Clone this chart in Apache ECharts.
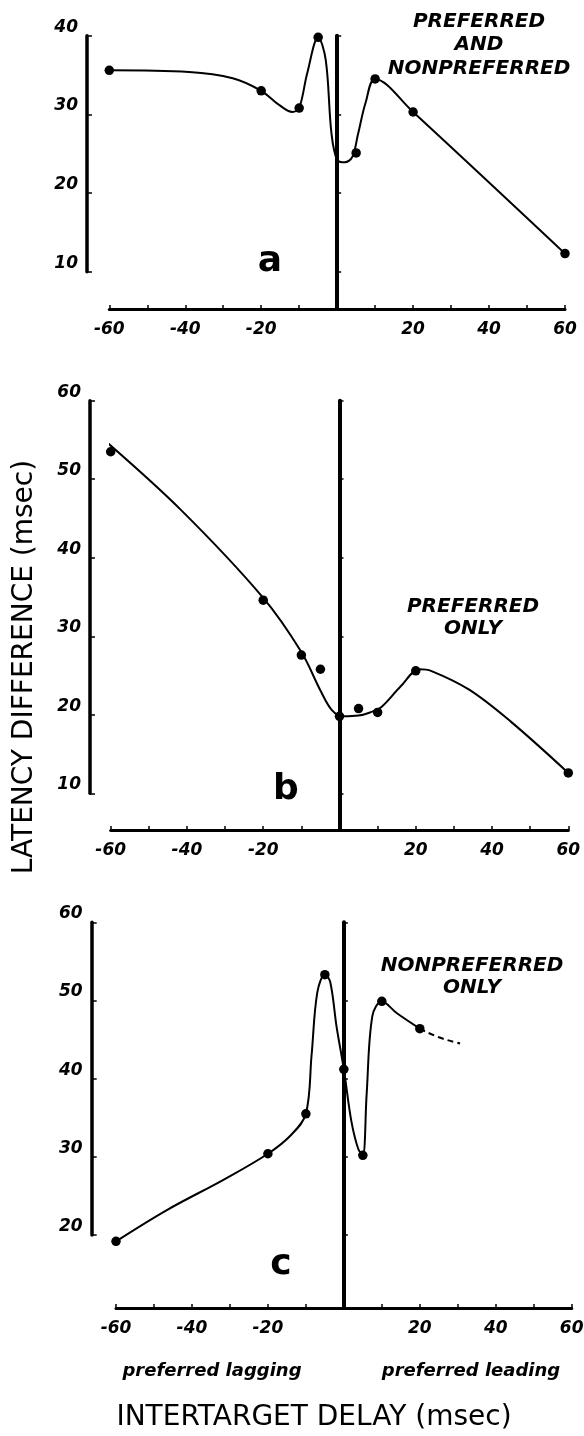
<!DOCTYPE html>
<html><head><meta charset="utf-8">
<script src="https://cdn.jsdelivr.net/npm/echarts@6/dist/echarts.min.js"></script>
<style>html,body{margin:0;padding:0;background:#fff}#c{width:584px;height:1436px}</style>
</head><body><div id="c"></div>
<script>
// ---------- DATA ----------
const xTickLabels = [-60, -40, -20, 20, 40, 60];
const yTicksA = [10, 20, 30, 40];
const yTicksB = [10, 20, 30, 40, 50, 60];
const yTicksC = [20, 30, 40, 50, 60];

// panel a : preferred and nonpreferred
const pointsAx = [-60, -20, -10, -5, 5, 10, 20, 60];
const pointsAy = [35.6, 33.0, 30.8, 39.8, 25.1, 34.5, 30.3, 12.3];
const curveAx = [-60, -39, -27.5, -20, -15.3, -11.8, -10, -7.9, -5, -3, -1.5, 0, 2, 4, 5.5, 7.5, 10, 20, 60];
const curveAy = [35.6, 35.4, 34.6, 33.0, 31.2, 30.3, 30.8, 35.2, 39.8, 36.9, 27.6, 24.2, 23.9, 24.6, 27.5, 31.5, 34.5, 30.3, 12.3];

// panel b : preferred only
const pointsBx = [-60, -20, -10, -5, 0, 5, 10, 20, 60];
const pointsBy = [53.5, 34.6, 27.6, 25.8, 19.8, 20.8, 20.3, 25.6, 12.6];
const curveBx = [-61.7, -41.6, -20, -10, -5, -2, 1, 5, 8, 11, 16, 21, 24, 34, 45, 60];
const curveBy = [55.0, 46.1, 34.9, 28.0, 23.1, 20.6, 19.8, 19.9, 20.3, 21.0, 23.6, 25.8, 25.6, 23.2, 19.1, 12.6];

// panel c : nonpreferred only
const pointsCx = [-60, -20, -10, -5, 0, 5, 10, 20];
const pointsCy = [19.2, 30.4, 35.5, 53.3, 41.2, 30.2, 49.9, 46.4];
const curveCx = [-60, -46.6, -31.6, -20, -13.9, -10, -8.5, -7, -5, -3.6, -1.9, 0, 2, 3.8, 5, 6, 7.5, 10, 13.9, 20];
const curveCy = [19.2, 23.2, 27.1, 30.4, 32.8, 35.5, 43.0, 51.0, 53.3, 52.4, 46.6, 41.2, 34.5, 31.0, 30.2, 38.0, 48.0, 49.9, 48.4, 46.4];
const dashCx = [20, 25, 30.6];
const dashCy = [46.4, 45.3, 44.5];

// ---------- LAYOUT ----------
const zip = (xs, ys) => xs.map((x, i) => [x, ys[i]]);
const FONT = '"DejaVu Sans", sans-serif';
const panels = [
  { left: 109.3, right: 19, top: 35.7, dataH: 273.3, axisH: 236, yMin: 10, yMax: 40, yLow: 5.26, offset: 22.3, ticks: yTicksA,
    series: [[pointsAx, pointsAy, 'scatter'], [curveAx, curveAy, 'curve']] },
  { left: 110.7, right: 15.7, top: 400.7, dataH: 429.3, axisH: 392.6, yMin: 10, yMax: 60, yLow: 5.33, offset: 20.7, ticks: yTicksB,
    series: [[pointsBx, pointsBy, 'scatter'], [curveBx, curveBy, 'curve']] },
  { left: 116, right: 12.3, top: 922.3, dataH: 385.7, axisH: 312.7, yMin: 20, yMax: 60, yLow: 10.67, offset: 24.3, ticks: yTicksC,
    series: [[pointsCx, pointsCy, 'scatter'], [curveCx, curveCy, 'curve'], [dashCx, dashCy, 'dash']] }
];

const grid = [], xAxis = [], yAxis = [], series = [];
const labelStyle = { color: '#000', fontFamily: FONT, fontWeight: 'bold', fontStyle: 'italic', fontSize: 17 };
panels.forEach((p, i) => {
  const gData = grid.length;
  grid.push({ left: p.left, right: p.right, top: p.top, height: p.dataH, outerBoundsMode: 'none' });
  grid.push({ left: p.left, right: p.right, top: p.top, height: p.axisH, outerBoundsMode: 'none' });
  xAxis.push({
    gridIndex: gData, type: 'value', min: -60, max: 60, interval: 10, position: 'bottom',
    axisLine: { show: true, onZero: false, lineStyle: { color: '#000', width: 3 } },
    axisTick: { show: true, inside: true, length: 4, lineStyle: { color: '#000', width: 1.5 } },
    axisLabel: Object.assign({ margin: 12, formatter: v => xTickLabels.includes(v) ? String(v) : '' }, labelStyle),
    splitLine: { show: false }
  });
  xAxis.push({ gridIndex: gData + 1, type: 'value', min: -60, max: 60, show: false });
  yAxis.push({
    gridIndex: gData, type: 'value', min: p.yLow, max: p.yMax,
    axisLine: { show: true, onZero: true, lineStyle: { color: '#000', width: 4 } },
    axisTick: { show: true, inside: true, length: 4, customValues: p.ticks, lineStyle: { color: '#000', width: 1.5 } },
    axisLabel: { show: false }, splitLine: { show: false }
  });
  yAxis.push({
    gridIndex: gData + 1, type: 'value', min: p.yMin, max: p.yMax, interval: 10, position: 'left', offset: p.offset,
    axisLine: { show: true, onZero: false, lineStyle: { color: '#000', width: 3.5 } },
    axisTick: { show: true, inside: true, length: 5, lineStyle: { color: '#000', width: 1.5 } },
    axisLabel: Object.assign({ margin: 9, verticalAlign: 'bottom' }, labelStyle),
    splitLine: { show: false }
  });
  p.series.forEach(([xs, ys, kind]) => {
    if (kind === 'scatter') {
      series.push({ type: 'scatter', xAxisIndex: gData, yAxisIndex: gData, data: zip(xs, ys),
        symbol: 'circle', symbolSize: 9.5, itemStyle: { color: '#000', opacity: 1 }, z: 5, clip: false });
    } else {
      series.push({ type: 'line', xAxisIndex: gData, yAxisIndex: gData, data: zip(xs, ys),
        smooth: kind === 'dash' ? true : 0.35, showSymbol: false, symbol: 'none', clip: false,
        lineStyle: { color: '#000', width: 2, opacity: 1, type: kind === 'dash' ? [6, 4] : 'solid' }, z: 4 });
    }
  });
});

const txt = (text, x, y, font, extra) => ({ type: 'text', x, y, silent: true, z: 10,
  style: Object.assign({ text, font, fill: '#000', align: 'center', verticalAlign: 'middle' }, extra || {}) });
const annFont = 'italic bold 20px ' + FONT;
const graphic = [
  txt('PREFERRED\nAND\nNONPREFERRED', 479, 45, annFont, { lineHeight: 23.5 }),
  txt('PREFERRED\nONLY', 473, 617.5, annFont, { lineHeight: 22 }),
  txt('NONPREFERRED\nONLY', 472, 977, annFont, { lineHeight: 22 }),
  txt('a', 270, 262, 'bold 36px ' + FONT),
  txt('b', 286, 790, 'bold 36px ' + FONT),
  txt('c', 281, 1265, 'bold 36px ' + FONT),
  txt('preferred lagging', 212, 1371.7, 'italic bold 18px ' + FONT),
  txt('preferred leading', 471, 1371.7, 'italic bold 18px ' + FONT),
  txt('INTERTARGET DELAY (msec)', 314, 1418, '28px ' + FONT),
  Object.assign(txt('LATENCY DIFFERENCE (msec)', 25, 667, '28px ' + FONT), { rotation: Math.PI / 2 })
];

const chart = echarts.init(document.getElementById('c'), null, { renderer: 'canvas' });
chart.setOption({ animation: false, backgroundColor: '#fff', grid, xAxis, yAxis, series, graphic });
</script></body></html>
